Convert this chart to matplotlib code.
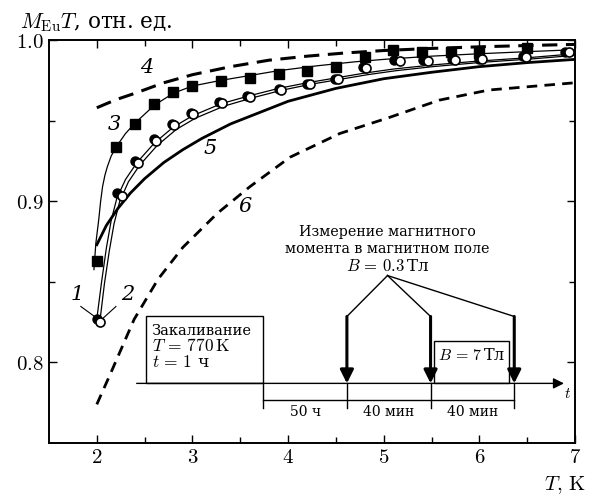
import matplotlib
matplotlib.use('Agg')
import matplotlib.pyplot as plt
from matplotlib.patches import Rectangle

plt.rcParams['font.family'] = ['DejaVu Serif']
plt.rcParams['mathtext.fontset'] = 'cm'

# measured points
T_sq = [2.0, 2.2, 2.4, 2.6, 2.8, 3.0, 3.3, 3.6, 3.9, 4.2, 4.5, 4.8, 5.1, 5.4, 5.7, 6.0, 6.5]
M_sq = [0.8632, 0.9337, 0.948, 0.9603, 0.9678, 0.9715, 0.9746, 0.9765, 0.979, 0.981,
        0.9833, 0.9895, 0.9938, 0.9926, 0.9926, 0.992, 0.995]

T_fc = [2.0, 2.21, 2.4, 2.6, 2.79, 2.98, 3.28, 3.57, 3.9, 4.2, 4.49, 4.78, 5.11, 5.41, 5.71, 6.0, 6.46, 6.9]
M_fc = [0.8272, 0.9053, 0.925, 0.9385, 0.948, 0.955, 0.9615, 0.965, 0.9695, 0.973, 0.976,
        0.983, 0.9876, 0.9876, 0.988, 0.9885, 0.99, 0.9928]

T_oc = [2.03, 2.26, 2.43, 2.62, 2.81, 3.01, 3.31, 3.6, 3.93, 4.23, 4.52, 4.81, 5.17, 5.46, 5.75, 6.03, 6.49, 6.94]
M_oc = [0.8248, 0.9034, 0.9238, 0.9375, 0.9474, 0.9542, 0.961, 0.9647, 0.969, 0.9727, 0.9758,
        0.9827, 0.987, 0.987, 0.9876, 0.9882, 0.9895, 0.9926]

# calculated curves
T_c3 = [1.97, 1.99, 2.02, 2.04, 2.06, 2.085, 2.11, 2.15, 2.2, 2.3, 2.4, 2.6, 2.8, 3.0, 3.3, 3.6,
        3.9, 4.3, 4.7, 5.0, 5.5, 6.0, 6.5, 7.0]
M_c3 = [0.8576, 0.874, 0.8885, 0.9, 0.909, 0.9162, 0.9214, 0.928, 0.9335, 0.942, 0.9485, 0.9595,
        0.967, 0.9715, 0.975, 0.978, 0.981, 0.984, 0.9865, 0.988, 0.990, 0.9915, 0.9928, 0.994]

T_c1 = [2.0, 2.05, 2.1, 2.15, 2.21, 2.3, 2.42, 2.6, 2.8, 3.0, 3.3, 3.6, 3.9, 4.2, 4.5, 4.8, 5.1, 5.5, 6.0, 6.5, 7.0]
M_c1 = [0.827, 0.85, 0.871, 0.888, 0.902, 0.9135, 0.924, 0.936, 0.946, 0.953, 0.9605, 0.9655,
        0.970, 0.9735, 0.9765, 0.9795, 0.982, 0.9845, 0.987, 0.989, 0.9915]

T_c2 = [2.03, 2.08, 2.13, 2.18, 2.24, 2.33, 2.45, 2.63, 2.83, 3.03, 3.33, 3.63, 3.93, 4.23, 4.53, 4.83, 5.13, 5.53, 6.03, 6.53, 7.0]
M_c2 = [0.8245, 0.849, 0.869, 0.886, 0.900, 0.912, 0.9225, 0.9345, 0.9445, 0.9515, 0.959, 0.9642,
        0.9688, 0.9725, 0.9755, 0.9785, 0.981, 0.9836, 0.9862, 0.9882, 0.9905]

T_c5 = [2.0, 2.1, 2.22, 2.35, 2.5, 2.7, 2.9, 3.1, 3.4, 3.7, 4.0, 4.5, 5.0, 5.5, 6.0, 6.5, 7.0]
M_c5 = [0.873, 0.885, 0.8955, 0.905, 0.914, 0.924, 0.932, 0.939, 0.948, 0.955, 0.962, 0.970,
        0.976, 0.980, 0.9835, 0.986, 0.988]

T_c4 = [2.0, 2.2, 2.4, 2.7, 3.0, 3.4, 3.8, 4.2, 4.6, 5.0, 5.5, 6.0, 6.5, 7.0]
M_c4 = [0.958, 0.963, 0.967, 0.9735, 0.9785, 0.9835, 0.9875, 0.990, 0.992, 0.9935, 0.9948,
        0.9958, 0.9966, 0.9973]

T_c6 = [2.0, 2.15, 2.39, 2.64, 2.9, 3.26, 3.6, 4.02, 4.54, 5.06, 5.58, 6.1, 7.0]
M_c6 = [0.774, 0.794, 0.8267, 0.8516, 0.8714, 0.8925, 0.909, 0.9273, 0.942, 0.952, 0.9627,
        0.969, 0.9735]

fig = plt.figure(figsize=(5.91, 4.95), dpi=100)
ax = fig.add_axes([0.0829, 0.105, 0.89, 0.8141])

ax.plot(T_c4, M_c4, color='k', lw=2.2, dashes=(5, 2.8))
ax.plot(T_c6, M_c6, color='k', lw=2.0, dashes=(3.8, 2.6))
ax.plot(T_c5, M_c5, color='k', lw=2.0)
ax.plot(T_c3, M_c3, color='k', lw=0.9)
ax.plot(T_c1, M_c1, color='k', lw=0.9)
ax.plot(T_c2, M_c2, color='k', lw=0.9)

ax.plot(T_fc, M_fc, 'o', color='k', ms=6.5, zorder=3)
ax.plot(T_sq, M_sq, 's', color='k', ms=6.5, zorder=4)
ax.plot(T_oc, M_oc, 'o', mfc='white', mec='k', mew=1.2, ms=6.5, zorder=5)

ax.set_xlim(1.5, 7.0)
ax.set_ylim(0.75, 1.0)
ax.set_xticks([2, 3, 4, 5, 6, 7])
ax.set_xticklabels(['$2$', '$3$', '$4$', '$5$', '$6$', '$7$'])
ax.set_xticks([2.5, 3.5, 4.5, 5.5, 6.5], minor=True)
ax.set_yticks([0.8, 0.9, 1.0])
ax.set_yticklabels(['$0.8$', '$0.9$', '$1.0$'])
ax.set_yticks([0.85, 0.95], minor=True)
ax.tick_params(which='both', direction='in', top=True, right=True, width=1.0, labelsize=15)
ax.tick_params(which='major', length=6)
ax.tick_params(which='minor', length=4)
for s in ax.spines.values():
    s.set_linewidth(1.4)

# curve numbers
ax.text(1.79, 0.842, '1', fontsize=15, style='italic', ha='center', va='center')
ax.text(2.32, 0.842, '2', fontsize=15, style='italic', ha='center', va='center')
ax.text(2.18, 0.9474, '3', fontsize=15, style='italic', ha='center', va='center')
ax.text(2.52, 0.9827, '4', fontsize=15, style='italic', ha='center', va='center')
ax.text(3.18, 0.933, '5', fontsize=15, style='italic', ha='center', va='center')
ax.text(3.55, 0.8966, '6', fontsize=15, style='italic', ha='center', va='center')
ax.plot([1.833, 1.99], [0.8347, 0.8279], color='k', lw=0.8)
ax.plot([2.2, 2.05], [0.8347, 0.8266], color='k', lw=0.8)

# measurement protocol sketch
ax.add_patch(Rectangle((2.51, 0.787), 1.23, 0.0415, fill=False, lw=1.0, ec='k'))
ax.text(2.573, 0.8192, 'Закаливание', fontsize=10.5, va='center', ha='left')
ax.text(2.573, 0.8099, r'$T\,=\,770\,\mathrm{K}$', fontsize=12.5, va='center', ha='left')
ax.text(2.573, 0.800, r'$t\,=\,1$ ч', fontsize=12.5, va='center', ha='left')

ax.annotate('', xy=(6.885, 0.787), xytext=(2.417, 0.787),
            arrowprops=dict(arrowstyle='-|>', lw=1.0, color='k', mutation_scale=16,
                            shrinkA=0, shrinkB=0))
ax.text(6.92, 0.7805, r'$t$', fontsize=11, ha='center', va='center')

ax.plot([3.74, 6.365], [0.7765, 0.7765], color='k', lw=1.0)
for xv in [3.74, 4.615, 5.49, 6.365]:
    ax.plot([xv, xv], [0.787, 0.7715], color='k', lw=1.0)
ax.text(4.18, 0.769, '50 ч', fontsize=10, ha='center', va='center')
ax.text(5.05, 0.769, '40 мин', fontsize=10, ha='center', va='center')
ax.text(5.93, 0.769, '40 мин', fontsize=10, ha='center', va='center')

ax.add_patch(Rectangle((5.53, 0.787), 0.78, 0.026, fill=False, lw=1.0, ec='k'))
ax.text(5.92, 0.8043, r'$B\,=\,7\,$Тл', fontsize=11.5, ha='center', va='center')

apex = (5.04, 0.8539)
for xv in [4.615, 5.49, 6.365]:
    ax.plot([apex[0], xv], [apex[1], 0.8285], color='k', lw=1.0)
    ax.annotate('', xy=(xv, 0.787), xytext=(xv, 0.8285),
                arrowprops=dict(arrowstyle='-|>', lw=2.2, color='k', mutation_scale=20,
                                shrinkA=0, shrinkB=0))
ax.text(5.04, 0.881, 'Измерение магнитного', fontsize=10.3, ha='center', va='center')
ax.text(5.04, 0.8706, 'момента в магнитном поле', fontsize=10.3, ha='center', va='center')
ax.text(5.04, 0.8594, r'$B\,=\,0.3\,$Тл', fontsize=12, ha='center', va='center')

fig.text(20 / 591, 1 - 28 / 495, r'$M_{\mathrm{Eu}}T$, отн. ед.', fontsize=15.5,
         ha='left', va='baseline')
fig.text(586 / 591, 1 - 490 / 495, r'$T,\,\mathrm{K}$', fontsize=15, ha='right', va='baseline')

fig.savefig('out.png', dpi=100)
